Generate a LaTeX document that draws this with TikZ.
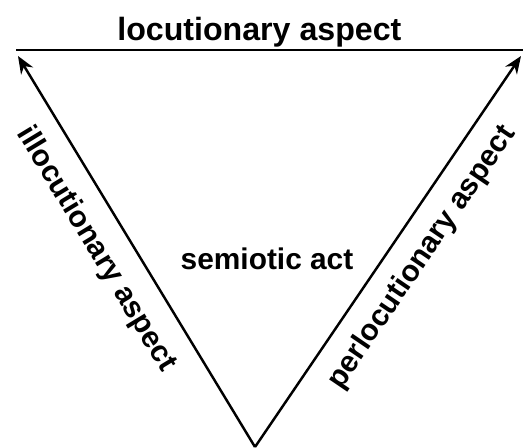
\documentclass[tikz,border=0pt]{standalone}
\usepackage{fontspec}
\setmainfont{Liberation Sans}
\usetikzlibrary{arrows.meta}

\begin{document}
\begin{tikzpicture}[x=0.02cm,y=-0.02cm,>={Stealth[length=10pt,width=8pt]},line width=1.4pt,
  side/.style={font=\bfseries\fontsize{17}{20}\selectfont},
  flat/.style={font=\bfseries\fontsize{17}{20}\selectfont}]
\useasboundingbox (0,0) rectangle (523,448);
% corners of the triangle
\coordinate (tl) at (16,50);
\coordinate (tr) at (523,50);
\coordinate (bot) at (255,447);
\coordinate (illEnd) at (18,56);
\coordinate (perlEnd) at (521,56);
% edges and their labels
\draw (tl) -- (tr) node[flat,font=\bfseries\fontsize{18.3}{20}\selectfont,pos=0.48,above,inner sep=1pt] {locutionary aspect};
\draw[->] (bot) -- (illEnd) node[side,pos=0.55,sloped,below=7pt] {illocutionary aspect};
\draw[->] (bot) -- (perlEnd) node[side,pos=0.53,sloped,below=6pt] {perlocutionary aspect};
\node[flat] (act) at (267,259) {semiotic act};
\end{tikzpicture}
\end{document}
